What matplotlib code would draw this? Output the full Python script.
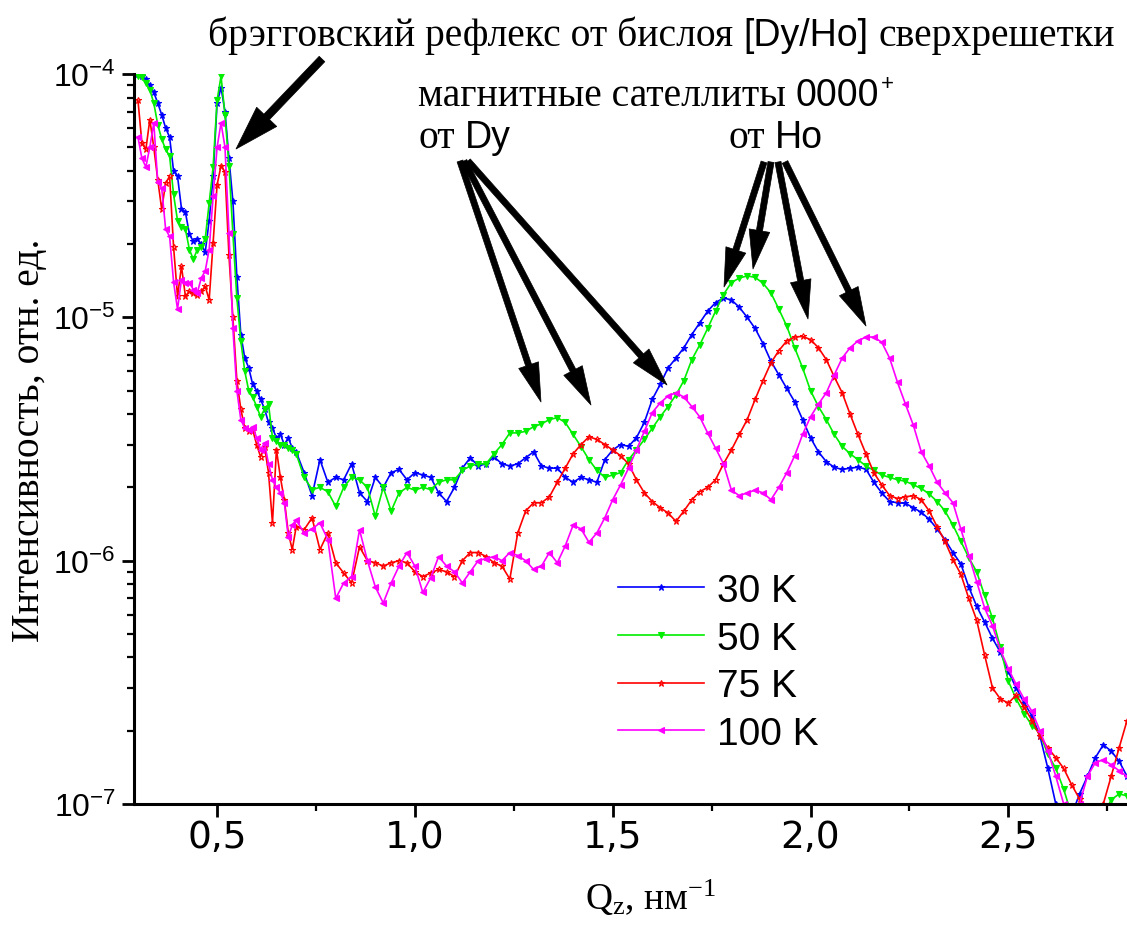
import numpy as np
import matplotlib.pyplot as plt
from matplotlib.patches import FancyArrowPatch, ArrowStyle
from matplotlib.transforms import IdentityTransform
from matplotlib.ticker import FixedLocator, FixedFormatter, MultipleLocator, NullFormatter

plt.rcParams['mathtext.fontset'] = 'custom'
plt.rcParams['mathtext.rm'] = 'Liberation Serif'
plt.rcParams['mathtext.it'] = 'Liberation Serif:italic'

# --- data: Q_z grid (nm^-1) and intensities in units of 1e-6 ---
q = np.concatenate([np.arange(30, 71) / 100, np.arange(72, 281, 2) / 100])

i_30K = [
    100, 98, 95, 90, 84, 76, 68, 60, 55, 40,
    38, 28, 27, 22, 20.5, 21, 20, 18.5, 25, 38,
    76, 88, 70, 45, 30, 14.7, 8.5, 6.8, 6.2, 5.3,
    5.0, 4.6, 4.2, 3.7, 3.5, 3.2, 3.3, 3.0, 3.2, 2.9, 2.8,
    2.3, 1.85, 2.6, 2.1, 2.2, 2.15, 2.5, 1.9, 1.75, 2.2,
    2.0, 2.3, 2.37, 2.15, 2.3, 2.25, 2.2, 1.9, 1.75, 2.0,
    2.4, 2.65, 2.45, 2.5, 2.67, 2.5, 2.45, 2.5, 2.65, 2.8,
    2.45, 2.4, 2.4, 2.2, 2.1, 2.2, 2.15, 2.1, 2.6, 2.85,
    3.0, 2.95, 3.2, 3.7, 4.6, 5.3, 6.2, 6.8, 7.5, 8.5,
    9.5, 10.6, 11.5, 12.0, 11.8, 11.0, 10.0, 9.0, 7.8, 6.6,
    5.8, 5.1, 4.5, 3.8, 3.2, 2.8, 2.55, 2.42, 2.37, 2.4,
    2.42, 2.38, 2.1, 1.9, 1.75, 1.73, 1.72, 1.65, 1.58, 1.48,
    1.35, 1.22, 1.08, 0.97, 0.78, 0.65, 0.56, 0.48, 0.42, 0.35,
    0.30, 0.26, 0.23, 0.19, 0.14, 0.10, 0.085, 0.09, 0.11, 0.13,
    0.155, 0.175, 0.165, 0.15, 0.13,
]
i_50K = [
    98, 97, 92, 86, 76, 62, 54, 49, 46, 32,
    25, 23.5, 23, 19, 17.3, 19, 19.5, 21, 29.5, 41.5,
    78, 98, 68, 42, 22, 12, 8.0, 6.0, 5.0, 4.7,
    4.3, 3.9, 4.2, 4.4, 3.2, 3.1, 3.0, 3.0, 2.9, 2.85, 2.75,
    2.2, 1.96, 2.0, 1.92, 1.67, 2.0, 2.2, 2.15, 2.0, 1.52,
    2.0, 1.6, 1.9, 2.0, 1.95, 2.0, 1.96, 2.1, 2.15, 2.15,
    2.35, 2.45, 2.5, 2.5, 2.75, 3.0, 3.35, 3.35, 3.4, 3.55,
    3.65, 3.8, 3.87, 3.7, 3.3, 2.94, 2.6, 2.35, 2.2, 2.25,
    2.3, 2.6, 2.85, 3.15, 3.5, 3.9, 4.3, 4.8, 5.5, 6.7,
    7.7, 9.0, 10.6, 12.4, 13.9, 14.5, 14.8, 14.6, 13.8, 12.6,
    10.8, 9.2, 7.5, 6.2, 5.0, 4.3, 3.8, 3.3, 2.95, 2.75,
    2.6, 2.45, 2.35, 2.25, 2.2, 2.15, 2.12, 2.05, 1.98, 1.88,
    1.75, 1.6, 1.4, 1.2, 1.03, 0.9, 0.72, 0.58, 0.44, 0.32,
    0.27, 0.235, 0.21, 0.195, 0.16, 0.14, 0.115, 0.09, 0.085, 0.08,
    0.085, 0.09, 0.104, 0.11, 0.108,
]
i_75K = [
    78, 52, 49, 65, 50, 36.8, 27.8, 35.6, 38, 19.5,
    12.2, 16.2, 12.2, 12.8, 12.6, 12.4, 12.8, 13.4, 11.8, 20.3,
    35, 42, 39.5, 18, 10, 5.5, 4.2, 3.5, 3.4, 3.45,
    3.0, 2.67, 2.94, 2.3, 1.43, 2.86, 2.2, 1.78, 1.3, 1.11, 1.38,
    1.34, 1.5, 1.11, 1.3, 0.98, 0.89, 0.81, 1.14, 1.0, 0.98,
    0.95, 0.98, 1.0, 0.98, 0.9, 0.86, 0.89, 0.92, 0.9, 0.86,
    1.0, 1.08, 1.08, 1.04, 0.98, 0.95, 0.84, 1.3, 1.6, 1.73,
    1.73, 1.83, 2.1, 2.4, 2.75, 3.0, 3.23, 3.15, 3.0, 2.85,
    2.7, 2.5, 2.15, 1.9, 1.75, 1.65, 1.57, 1.45, 1.6, 1.78,
    1.92, 2.0, 2.15, 2.5, 2.85, 3.3, 3.8, 4.6, 5.5, 6.5,
    7.3, 8.0, 8.3, 8.35, 8.1, 7.5, 6.7, 5.7, 4.9, 4.0,
    3.3, 2.75, 2.3, 2.05, 1.85, 1.8, 1.83, 1.85, 1.78, 1.6,
    1.38, 1.2, 1.01, 0.88, 0.7, 0.57, 0.41, 0.3, 0.27, 0.26,
    0.28, 0.25, 0.22, 0.19, 0.17, 0.155, 0.14, 0.12, 0.105, 0.09,
    0.085, 0.1, 0.13, 0.17, 0.22,
]
i_100K = [
    55, 45, 41.5, 50, 63, 36, 34, 23, 21.5, 14,
    10.8, 14.3, 13.9, 13.9, 13, 12.6, 14.5, 15.5, 19, 31.4,
    50, 63, 50, 22.3, 9.0, 5.0, 3.8, 3.5, 3.45, 3.55,
    3.2, 2.86, 3.05, 2.5, 2.15, 2.0, 1.9, 1.73, 1.25, 1.4, 1.47,
    1.3, 1.35, 1.43, 1.22, 0.7, 0.81, 0.86, 1.34, 1.0, 0.78,
    0.67, 0.81, 0.95, 1.08, 0.95, 0.74, 0.85, 1.04, 0.95, 0.9,
    0.81, 0.9, 1.0, 1.02, 1.04, 1.0, 1.08, 1.05, 1.0, 0.92,
    0.95, 1.08, 0.98, 1.15, 1.4, 1.35, 1.19, 1.3, 1.5, 1.78,
    2.05, 2.4, 2.85, 3.4, 4.06, 4.45, 4.75, 4.9, 4.7, 4.3,
    3.9, 3.35, 2.9, 2.5, 1.95, 1.85, 1.9, 1.95, 1.9, 1.78,
    2.0, 2.3, 2.7, 3.3, 3.9, 4.4, 4.9, 5.8, 6.8, 7.5,
    8.0, 8.3, 8.3, 7.9, 6.8, 5.4, 4.4, 3.6, 2.8, 2.45,
    2.1, 1.9, 1.73, 1.35, 1.05, 0.82, 0.64, 0.54, 0.43, 0.36,
    0.31, 0.27, 0.24, 0.2, 0.165, 0.13, 0.1, 0.085, 0.1, 0.13,
    0.148, 0.152, 0.145, 0.137, 0.13,
]

labels = ['30 K', '50 K', '75 K', '100 K']
series = [i_30K, i_50K, i_75K, i_100K]
colors = ['#0000ff', '#00ee00', '#ff0000', '#ff00ff']
markers = ['*', 'v', '*', '<']
facecols = ['#0000ff', '#00ee00', 'none', '#ff00ff']

xtick_vals = [0.5, 1.0, 1.5, 2.0, 2.5]
xtick_labels = ['0,5', '1,0', '1,5', '2,0', '2,5']

W, H = 1127, 928
fig = plt.figure(figsize=(W / 100, H / 100), dpi=100)
ax = fig.add_axes([134 / W, 1 - 805 / H, (W - 134) / W, (805 - 75) / H])

for lab, vals, c, m, fc in zip(labels, series, colors, markers, facecols):
    ax.plot(q, np.array(vals) * 1e-6, color=c, lw=1.2, marker=m, ms=5,
            mfc=fc, mec=c, mew=0.8, label=lab)

ax.set_yscale('log')
ax.set_ylim(1e-7, 1e-4)
ax.set_xlim(0.29, 2.80)

for s in ['top', 'right']:
    ax.spines[s].set_visible(False)
for s in ['left', 'bottom']:
    ax.spines[s].set_linewidth(2.2)

ax.xaxis.set_major_locator(FixedLocator(xtick_vals))
ax.xaxis.set_major_formatter(FixedFormatter(xtick_labels))
ax.xaxis.set_minor_locator(MultipleLocator(0.25))
ax.yaxis.set_minor_formatter(NullFormatter())

ax.tick_params(which='major', direction='out', length=9, width=2)
ax.tick_params(which='minor', direction='out', length=5, width=1.6)
ax.tick_params(axis='x', labelsize=27, pad=2, labelfontfamily='Liberation Sans Narrow')
ax.tick_params(axis='y', labelsize=23, pad=4, labelfontfamily='Liberation Sans')

ax.set_ylabel('Интенсивность, отн. ед.', fontsize=28.5, family='Liberation Serif')
ax.yaxis.set_label_coords(-0.087, 0.5)
ax.set_xlabel(r'Q$_\mathrm{z}$, нм$^{-1}$', fontsize=27, family='Liberation Serif')
ax.xaxis.set_label_coords(0.52, -0.1)

ax.legend(loc='upper left', bbox_to_anchor=(618 / W, 1 - 574 / H),
          bbox_transform=fig.transFigure, frameon=False,
          prop={'family': 'Liberation Sans', 'size': 28},
          handlelength=2.2, handletextpad=0.35, labelspacing=0.3,
          borderpad=0, borderaxespad=0, numpoints=1)

# --- annotation text, built from pieces in mixed fonts ---
renderer = fig.canvas.get_renderer()
SERIF, SANS = 'Liberation Serif', 'Liberation Sans'


def put_line(x0, base, parts):
    x = x0
    for txt, fam, fs, dy, gap in parts:
        t = fig.text(x / W, 1 - (base - dy) / H, txt, fontfamily=fam,
                     fontsize=fs, ha='left', va='baseline')
        x += t.get_window_extent(renderer).width + gap


g = 10
put_line(208, 46, [('брэгговский рефлекс от бислоя', SERIF, 28.5, 0, g),
                   ('[Dy/Ho]', SANS, 27, 0, g),
                   ('сверхрешетки', SERIF, 28.5, 0, 0)])
put_line(418, 106, [('магнитные сателлиты', SERIF, 28.5, 0, g),
                    ('0000', SANS, 27, 0, 1),
                    ('+', SANS, 16, 16, 0)])
put_line(418, 148, [('от', SERIF, 28.5, 0, g), ('Dy', SANS, 27, 0, 0)])
put_line(728, 148, [('от', SERIF, 28.5, 0, g), ('Ho', SANS, 27, 0, 0)])

# --- arrows (figure pixel positions, y from top) ---
arrow_tails = [(322, 60), (460, 162), (464, 162), (468, 162),
               (764, 163), (771, 163), (778, 163), (785, 163)]
arrow_tips = [(236, 150), (541, 403), (591, 406), (667, 386),
              (724, 288), (753, 270), (808, 320), (866, 327)]
for k, ((xa, ya), (xb, yb)) in enumerate(zip(arrow_tails, arrow_tips)):
    if k == 0:
        style = ArrowStyle.Simple(head_length=1.6, head_width=1.0, tail_width=0.28)
    else:
        style = ArrowStyle.Simple(head_length=1.4, head_width=0.75, tail_width=0.22)
    arr = FancyArrowPatch((xa, H - ya), (xb, H - yb), arrowstyle=style,
                          mutation_scale=20, transform=IdentityTransform(),
                          color='black', lw=0.5, shrinkA=0, shrinkB=0)
    fig.add_artist(arr)

fig.savefig('out.png', dpi=100)
